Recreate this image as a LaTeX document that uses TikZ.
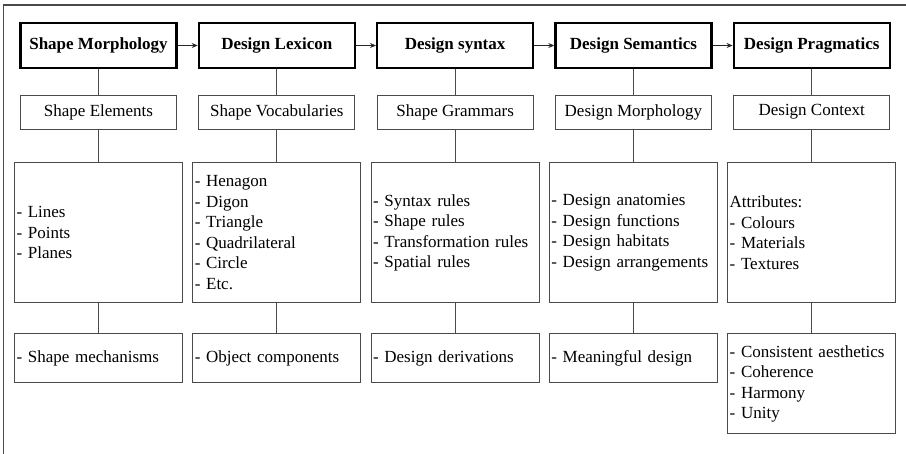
\documentclass[tikz,border=0pt]{standalone}
\usepackage{fontspec}
\setmainfont{Liberation Serif}
\usetikzlibrary{arrows.meta}
\definecolor{linegray}{HTML}{4A4A4A}

\begin{document}
\begin{tikzpicture}[x=1pt, y=-1pt,
        txt/.style={font=\fontsize{17}{20.5}\selectfont},
        head/.style={txt, draw, line width=2.2pt, minimum width=156pt, minimum height=45pt, inner sep=0pt, font=\fontsize{17}{20.5}\selectfont\bfseries},
        sub/.style={txt, draw=linegray, line width=0.9pt, minimum width=156pt, minimum height=34pt, inner sep=0pt},
        item/.style={txt, draw=linegray, line width=0.9pt, text width=164pt, inner xsep=2pt, inner ysep=0pt, align=left, anchor=north},
        link/.style={draw=linegray, line width=0.9pt},
        arr/.style={draw=black!85, line width=0.9pt, -{Stealth[length=6pt, width=5pt]}}]
        \useasboundingbox (0,0) rectangle (906,454);

        % Outer frame
        \draw[linegray, line width=1.4pt] (3.5,454) -- (3.5,5) -- (906,5);

        % Header row
        \node[head] (morph) at (98.5,45.5) {Shape Morphology};
        \node[head] (lexicon) at (276.8,45.5) {Design Lexicon};
        \node[head] (syntax) at (455.1,45.5) {Design syntax};
        \node[head] (semantics) at (633.4,45.5) {Design Semantics};
        \node[head] (pragmatics) at (811.7,45.5) {Design Pragmatics};

        % Second row
        \node[sub] (elements) at (98.5,112) {Shape Elements};
        \node[sub] (vocab) at (276.8,112) {Shape Vocabularies};
        \node[sub] (grammars) at (455.1,112) {Shape Grammars};
        \node[sub] (dmorph) at (633.4,112) {Design Morphology};
        \node[sub] (context) at (811.7,112) {Design Context};

        % Third row (lists)
        \node[item, minimum height=140pt] (list1) at (98.5,162.3) {- Lines\\- Points\\- Planes};
        \node[item, minimum height=140pt] (list2) at (276.8,162.3) {- Henagon\\- Digon\\- Triangle\\- Quadrilateral\\- Circle\\- Etc.};
        \node[item, minimum height=140pt] (list3) at (455.1,162.3) {- Syntax rules\\- Shape rules\\- Transformation rules\\- Spatial rules};
        \node[item, minimum height=140pt] (list4) at (633.4,162.3) {- Design anatomies\\- Design functions\\- Design habitats\\- Design arrangements};
        \node[item, minimum height=140pt] (list5) at (811.7,162.3) {Attributes:\\- Colours\\- Materials\\- Textures};

        % Bottom row (results)
        \node[item, minimum height=49pt] (res1) at (98.5,333.3) {- Shape mechanisms};
        \node[item, minimum height=49pt] (res2) at (276.8,333.3) {- Object components};
        \node[item, minimum height=49pt] (res3) at (455.1,333.3) {- Design derivations};
        \node[item, minimum height=49pt] (res4) at (633.4,333.3) {- Meaningful design};
        \node[item, minimum height=100pt] (res5) at (811.7,333.3) {- Consistent aesthetics\\- Coherence\\- Harmony\\- Unity};

        % Arrows between headers
        \draw[arr] (morph) -- (lexicon);
        \draw[arr] (lexicon) -- (syntax);
        \draw[arr] (syntax) -- (semantics);
        \draw[arr] (semantics) -- (pragmatics);

        % Vertical links
        \draw[link] (morph) -- (elements) (elements) -- (list1) (list1) -- (res1);
        \draw[link] (lexicon) -- (vocab) (vocab) -- (list2) (list2) -- (res2);
        \draw[link] (syntax) -- (grammars) (grammars) -- (list3) (list3) -- (res3);
        \draw[link] (semantics) -- (dmorph) (dmorph) -- (list4) (list4) -- (res4);
        \draw[link] (pragmatics) -- (context) (context) -- (list5) (list5) -- (res5);
    \end{tikzpicture}
\end{document}
